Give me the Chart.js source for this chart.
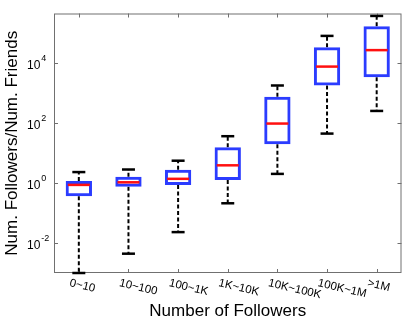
<!DOCTYPE html>
<html>
<head>
<meta charset="utf-8">
<title>Followers / Friends ratio by follower count</title>
<script src="https://cdn.jsdelivr.net/npm/chart.js@4/dist/chart.umd.min.js"></script>
<style>
  html, body { margin: 0; padding: 0; background: #fff; }
  #wrap { width: 415px; height: 323px; }
</style>
</head>
<body>
<div id="wrap"><canvas id="chart" width="415" height="323"></canvas></div>
<script>
// follower-count buckets
const categories = ["0~10", "10~100", "100~1K", "1K~10K", "10K~100K", "100K~1M", ">1M"];

// box plot stats of followers/friends
const whiskerLow  = [0.001, 0.0044, 0.023, 0.21, 2.0, 44, 250];
const quartile1   = [0.36, 0.74, 0.86, 1.25, 19.6, 1760, 3340];
const medians     = [0.86, 1.05, 1.37, 3.86, 95, 7500, 26500];
const quartile3   = [1.16, 1.6, 2.75, 15.3, 746, 32800, 166000];
const whiskerHigh = [2.3, 2.8, 5.5, 36, 1760, 79000, 365000];

// log axis
const yTicks = [1e-2, 1e0, 1e2, 1e4];
const yMin = 1e-3;
const yMax = 4.4e5;

const FONT = '"Liberation Sans", Arial, Helvetica, sans-serif';

// dashed whiskers: one line dataset, broken with nulls
const whiskerPts = [];
categories.forEach((c, i) => {
  whiskerPts.push({ x: c, y: quartile3[i] }, { x: c, y: whiskerHigh[i] }, { x: c, y: null });
  whiskerPts.push({ x: c, y: quartile1[i] }, { x: c, y: whiskerLow[i] }, { x: c, y: null });
});
const capPts = [];
categories.forEach((c, i) => {
  capPts.push({ x: c, y: whiskerHigh[i] }, { x: c, y: whiskerLow[i] });
});

// box, ticks and tick labels (matlab style)
const axisDecor = {
  id: "axisDecor",
  beforeDatasetsDraw(chart) {
    const { ctx, chartArea: a, scales: { x, y } } = chart;
    ctx.save();
    ctx.strokeStyle = "#707070";
    ctx.lineWidth = 1;
    ctx.strokeRect(a.left + 0.5, a.top + 0.5, a.right - a.left - 1, a.bottom - a.top - 1);
    ctx.beginPath();
    categories.forEach((c, i) => {
      const px = Math.round(x.getPixelForValue(i)) + 0.5;
      ctx.moveTo(px, a.bottom); ctx.lineTo(px, a.bottom - 4);
      ctx.moveTo(px, a.top); ctx.lineTo(px, a.top + 4);
    });
    yTicks.forEach(v => {
      const py = Math.round(y.getPixelForValue(v)) + 0.5;
      ctx.moveTo(a.left, py); ctx.lineTo(a.left + 4, py);
      ctx.moveTo(a.right, py); ctx.lineTo(a.right - 4, py);
    });
    ctx.stroke();
    ctx.restore();
  },
  afterDraw(chart) {
    const { ctx, scales: { x, y } } = chart;
    ctx.save();
    ctx.fillStyle = "#000";

    // y tick labels 10^n
    ctx.textAlign = "left";
    ctx.textBaseline = "alphabetic";
    yTicks.forEach(v => {
      const py = y.getPixelForValue(v);
      const exp = Math.round(Math.log10(v));
      ctx.font = "12px " + FONT;
      ctx.fillText("10", 27, py + 6);
      const w = ctx.measureText("10").width;
      ctx.font = "9px " + FONT;
      ctx.fillText(exp < 0 ? "-" + Math.abs(exp) : String(exp), 27 + w + 1, py - 1.5);
    });

    // x tick labels, rotated clockwise
    ctx.font = "11.5px " + FONT;
    ctx.textBaseline = "middle";
    categories.forEach((c, i) => {
      const px = x.getPixelForValue(i);
      ctx.save();
      ctx.translate(px - 9, 283);
      ctx.rotate(13 * Math.PI / 180);
      ctx.fillText(c, 0, 0);
      ctx.restore();
    });
    ctx.restore();
  }
};

new Chart(document.getElementById("chart"), {
  type: "bar",
  data: {
    labels: categories,
    datasets: [
      {
        type: "line",
        label: "Median",
        data: categories.map((c, i) => ({ x: c, y: medians[i] })),
        showLine: false,
        pointStyle: "line",
        pointRadius: 11,
        pointBorderWidth: 2.5,
        pointBorderColor: "#ff1010",
        clip: false,
        order: 0
      },
      {
        type: "line",
        label: "Caps",
        data: capPts,
        showLine: false,
        pointStyle: "line",
        pointRadius: 6.5,
        pointBorderWidth: 2.5,
        pointBorderColor: "#000",
        clip: false,
        order: 1
      },
      {
        label: "Box",
        data: categories.map((c, i) => [quartile1[i], quartile3[i]]),
        backgroundColor: "rgba(0,0,0,0)",
        borderColor: "#2b3cff",
        borderWidth: 3,
        borderSkipped: false,
        barPercentage: 0.53,
        categoryPercentage: 1,
        order: 2
      },
      {
        type: "line",
        label: "Whiskers",
        data: whiskerPts,
        borderColor: "#000",
        borderWidth: 2,
        borderDash: [4, 2.5],
        pointRadius: 0,
        spanGaps: false,
        order: 3
      }
    ]
  },
  options: {
    responsive: false,
    animation: false,
    layout: { padding: { top: 3, right: 3, left: 0, bottom: 0 } },
    plugins: {
      legend: { display: false },
      tooltip: { enabled: false }
    },
    scales: {
      x: {
        type: "category",
        offset: true,
        grid: { display: false },
        border: { display: false },
        ticks: { display: false },
        title: {
          display: true,
          text: "Number of Followers",
          color: "#000",
          font: { family: FONT, size: 17 },
          padding: { top: 0, bottom: 1 }
        },
        afterFit(scale) {
          scale.height = 50;
          scale.paddingLeft = 0;
          scale.paddingRight = 0;
        }
      },
      y: {
        type: "logarithmic",
        min: yMin,
        max: yMax,
        grid: { display: false },
        border: { display: false },
        ticks: { display: false },
        afterBuildTicks(scale) {
          scale.ticks = yTicks.map(v => ({ value: v }));
        },
        title: {
          display: true,
          text: "Num. Followers/Num. Friends",
          color: "#000",
          font: { family: FONT, size: 17 },
          padding: { top: 2.5, bottom: 0 }
        },
        afterFit(scale) {
          scale.width = 54;
          scale.paddingTop = 0;
          scale.paddingBottom = 0;
        }
      }
    }
  },
  plugins: [axisDecor]
});
</script>
</body>
</html>
